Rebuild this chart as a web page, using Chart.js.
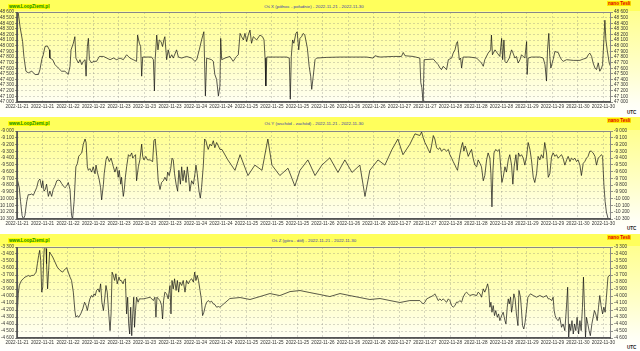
<!DOCTYPE html>
<html>
<head>
<meta charset="utf-8">
<script src="https://cdn.jsdelivr.net/npm/chart.js@4"></script>
<style>
  body { margin: 0; width: 640px; height: 351px; overflow: hidden; background: #fff; font-family: "Liberation Sans", Arial, sans-serif; }
  .panel { position: absolute; left: 0; width: 640px; }
  .head { position: absolute; left: 0; top: 0; width: 640px; background: #ffff5c; }
  .site { position: absolute; left: 8px; top: 4px; font-size: 4.6px; font-weight: bold; color: #0a8a00; background: #ffff00; line-height: 5px; padding: 0 1px; }
  .title { position: absolute; left: 17px; width: 594px; top: 4px; text-align: center; font-size: 4.4px; color: #3a3aa8; line-height: 5px; }
  .unit { position: absolute; left: 607px; top: 1px; font-size: 4.6px; font-weight: bold; color: #e00000; background: #ffe400; line-height: 5px; padding: 0 1px; }
  .utc { position: absolute; left: 627px; font-size: 4.6px; font-weight: bold; color: #222; line-height: 5px; }
  canvas { position: absolute; left: 0; top: 0; }
</style>
</head>
<body>
<script>
// tick labels along the time axis (one every 10 h)
const xLabels = ['2022-11-21', '2022-11-21', '2022-11-22', '2022-11-22', '2022-11-23', '2022-11-23',
  '2022-11-23', '2022-11-24', '2022-11-24', '2022-11-25', '2022-11-25', '2022-11-25',
  '2022-11-26', '2022-11-26', '2022-11-26', '2022-11-27', '2022-11-27', '2022-11-28',
  '2022-11-28', '2022-11-28', '2022-11-29', '2022-11-29', '2022-11-30', '2022-11-30'];

const titles = [
  'Oś X (północ - południe) - 2022-11-21 - 2022-11-30',
  'Oś Y (wschód - zachód) - 2022-11-21 - 2022-11-30',
  'Oś Z (góra - dół) - 2022-11-21 - 2022-11-30'
];

const rangeX = [47000, 48600];
const rangeY = [-10300, -9000];
const rangeZ = [-4600, -3300];

// [hours from start, nT]
const axisX = [
  [0, 48571], [0.5, 48582], [1.2, 48337], [2.2, 48074], [2.7, 47810], [3.5, 47547], [4.4, 47518],
  [5.8, 47547], [7.1, 47489], [8.4, 47489], [9.0, 47576], [9.7, 47752], [10.3, 47840], [11.0, 47986],
  [11.9, 47997], [12.7, 47927], [12.9, 47781], [14.0, 47752], [14.9, 47664], [16.2, 47605], [17.5, 47547],
  [18.8, 47547], [20.1, 47489], [20.8, 47635], [21.2, 47927], [22.1, 48044], [22.7, 48161], [23.1, 47781],
  [24.1, 47693], [24.7, 47752], [25.4, 47664], [26.0, 47723], [26.7, 47752], [27.1, 47459], [27.6, 47986],
  [28.0, 48132], [28.4, 47752], [29.3, 47693], [29.9, 47723], [31.2, 47723], [32.3, 47810], [33.9, 47810],
  [35.2, 47781], [36.5, 47752], [37.8, 47781], [39.1, 47752], [40.4, 47781], [41.7, 47752], [43.0, 47840],
  [44.3, 47781], [45.6, 47752], [46.9, 47723], [47.3, 48190], [48.0, 48044], [48.5, 47986], [48.9, 47459],
  [49.3, 47799], [50.8, 47799], [52.8, 47799], [53.5, 47752], [53.9, 47196], [54.2, 47752], [54.8, 48190],
  [55.3, 47927], [55.8, 48103], [56.5, 48074], [57.1, 47986], [57.6, 48103], [58.0, 48161], [58.7, 47752],
  [59.3, 47927], [60.0, 47781], [60.7, 47840], [61.3, 47781], [62.6, 47927], [63.3, 47799], [64.6, 47781],
  [66.5, 47810], [68.5, 47781], [69.8, 47723], [70.5, 47752], [71.5, 47927], [72.4, 48103], [73.3, 48249],
  [73.9, 47108], [74.4, 47781], [76.3, 47752], [77.0, 47723], [77.6, 47489], [78.3, 47401], [79.0, 47108],
  [79.6, 47284], [79.9, 48132], [80.3, 47752], [81.6, 47781], [83.5, 47810], [84.8, 47723], [86.1, 47810],
  [86.8, 47840], [87.5, 48220], [88.1, 48161], [88.8, 48103], [89.4, 48220], [90.1, 48074], [90.7, 48190],
  [91.4, 48278], [92.0, 48044], [92.7, 48161], [94.0, 48103], [95.3, 48190], [96.3, 48161], [96.9, 48103],
  [97.3, 47781], [97.6, 47284], [98.0, 47799], [100.5, 47799], [103.1, 47799], [105.8, 47799], [106.8, 47781],
  [107.2, 47050], [107.6, 47810], [108.1, 48103], [108.6, 48044], [109.4, 48220], [109.9, 48249], [110.5, 47927],
  [111.0, 48132], [111.6, 48161], [112.3, 48220], [112.9, 48190], [113.9, 47957], [114.6, 47635], [115.2, 47459],
  [115.6, 47225], [116.2, 47459], [116.9, 47752], [117.5, 47781], [121.4, 47793], [126.7, 47799], [131.9, 47799],
  [137.1, 47799], [139.7, 47781], [140.4, 47822], [142.4, 47799], [147.6, 47810], [150.8, 47810], [151.5, 47880],
  [152.2, 47822], [155.4, 47810], [158.0, 47781], [158.4, 47343], [158.8, 47255], [159.3, 47000], [159.7, 47752],
  [163.3, 47763], [164.6, 47693], [165.2, 47664], [165.9, 47605], [166.5, 47576], [167.2, 47635], [167.8, 47605],
  [168.5, 47576], [169.2, 47752], [170.5, 47781], [171.1, 47869], [171.8, 47927], [172.4, 48044], [172.8, 48074],
  [173.5, 47752], [174.0, 47781], [174.4, 47605], [175.0, 47799], [177.6, 47799], [180.3, 47781], [182.2, 47693],
  [182.9, 47635], [183.5, 47752], [184.8, 47869], [185.8, 47927], [186.1, 48190], [186.5, 47840], [187.5, 47927],
  [188.4, 47869], [189.4, 47810], [190.1, 48132], [190.5, 47752], [191.0, 48103], [191.4, 47723], [192.0, 47693],
  [193.1, 47781], [194.0, 47927], [194.6, 47869], [195.3, 47781], [195.9, 47810], [196.6, 47693], [197.3, 47752],
  [197.9, 47840], [199.2, 47781], [199.9, 48074], [200.1, 47489], [200.5, 47781], [201.8, 47799], [205.1, 47799],
  [206.4, 47781], [207.1, 47664], [207.7, 47372], [208.1, 47927], [208.6, 48220], [209.0, 47810], [209.4, 47605],
  [210.3, 47752], [211.0, 47898], [212.3, 47880], [212.9, 47810], [213.6, 47752], [214.3, 47723], [215.6, 47752],
  [218.2, 47740], [220.8, 47740], [222.1, 47763], [223.4, 47781], [224.1, 47840], [224.7, 47869], [225.4, 47810],
  [226.0, 47693], [226.7, 47605], [227.3, 47576], [228.0, 47693], [228.6, 47547], [229.3, 47605], [229.7, 47664],
  [230.2, 48103], [230.6, 48454], [231.0, 48103], [231.5, 47927], [232.3, 47693], [232.8, 47635]
];

const axisY = [
  [0.1, -9709], [0.9, -9838], [1.4, -10043], [2.0, -10249], [2.5, -10300], [3.1, -10249], [3.8, -10043],
  [4.4, -9941], [5.1, -9941], [5.8, -9930], [6.4, -9951], [7.1, -9889], [7.7, -9838], [8.4, -9735],
  [9.0, -9709], [9.7, -9838], [10.1, -9735], [10.6, -9889], [11.1, -9864], [11.6, -9786], [12.3, -9966],
  [12.9, -9889], [13.6, -9966], [14.2, -9864], [14.9, -9812], [15.6, -9735], [16.2, -9725], [16.9, -9735],
  [17.5, -9776], [18.2, -9812], [18.8, -9838], [19.5, -9812], [20.1, -9761], [20.8, -9864], [21.4, -10249],
  [21.8, -10300], [22.4, -10043], [23.1, -9529], [23.7, -9478], [24.2, -9375], [24.7, -9350], [25.4, -9324],
  [26.0, -9195], [26.7, -9118], [27.1, -9170], [27.6, -9529], [28.0, -9581], [28.6, -9555], [29.3, -9607],
  [29.9, -9529], [30.6, -9632], [31.0, -9504], [31.5, -9607], [32.2, -9709], [32.8, -9838], [33.2, -10018],
  [33.9, -9786], [34.2, -9632], [34.9, -9427], [35.4, -9375], [36.2, -9452], [36.9, -9401], [37.8, -9529],
  [38.4, -9607], [39.1, -9529], [39.7, -9684], [40.1, -9581], [40.7, -9786], [41.0, -9684], [41.7, -9966],
  [42.1, -9864], [42.5, -9684], [43.0, -9529], [43.7, -9350], [44.3, -9375], [45.0, -9324], [45.4, -9401],
  [45.9, -9375], [46.5, -9350], [46.9, -9735], [47.6, -9529], [48.2, -9427], [48.9, -9195], [49.3, -9375],
  [49.8, -9427], [50.5, -9375], [51.2, -9427], [52.2, -9427], [53.2, -9452], [53.7, -9144], [54.2, -9118],
  [54.8, -9375], [55.4, -9735], [56.1, -9864], [56.7, -9761], [57.4, -9735], [58.0, -9684], [58.7, -9735],
  [59.1, -9607], [59.7, -9658], [60.3, -9555], [60.8, -9401], [61.3, -9427], [61.8, -9632], [62.4, -9786],
  [63.0, -9889], [63.5, -9581], [64.1, -9786], [64.6, -9529], [65.1, -9735], [65.6, -9581], [66.3, -9761],
  [66.8, -9529], [67.3, -9684], [67.8, -9889], [68.5, -9735], [69.2, -9786], [69.8, -9632], [70.2, -9504],
  [70.7, -9632], [71.4, -9889], [71.9, -9992], [72.4, -9838], [73.1, -9504], [73.6, -9118], [74.1, -9144],
  [74.6, -9221], [75.0, -9272], [75.7, -9195], [76.3, -9221], [77.0, -9144], [77.6, -9247], [78.3, -9170],
  [79.0, -9221], [79.6, -9272], [80.4, -9273], [82.7, -9427], [85.5, -9581], [87.5, -9350], [90.6, -9658],
  [93.3, -9504], [96.1, -9581], [98.4, -9119], [100.0, -9504], [103.1, -9658], [106.3, -9550], [109.0, -9813],
  [111.0, -9581], [114.1, -9427], [116.9, -9658], [119.6, -9504], [122.7, -9396], [125.9, -9612], [128.6, -9427],
  [131.4, -9612], [134.5, -9504], [136.5, -9967], [138.4, -9581], [141.6, -9427], [144.3, -9504], [147.1, -9273],
  [149.4, -9119], [151.4, -9350], [154.1, -9196], [156.1, -9042], [158.0, -9067], [158.7, -9015], [159.3, -9093],
  [160.0, -9170], [160.7, -9221], [161.3, -9272], [162.0, -9324], [162.6, -9221], [163.3, -9067], [163.9, -9118],
  [164.6, -9247], [165.2, -9272], [165.9, -9247], [166.5, -9298], [167.2, -9272], [167.8, -9272], [168.5, -9298],
  [169.2, -9272], [169.8, -9350], [170.5, -9401], [171.1, -9452], [171.8, -9504], [172.4, -9555], [172.8, -9581],
  [173.3, -9452], [173.7, -9350], [174.4, -9221], [174.8, -9170], [175.3, -9298], [175.8, -9221], [176.3, -9272],
  [177.0, -9375], [177.6, -9324], [178.3, -9272], [178.9, -9401], [179.6, -9504], [180.3, -9529], [180.9, -9427],
  [181.6, -9478], [182.2, -9529], [182.9, -9735], [183.5, -9658], [184.2, -9427], [184.8, -9324], [185.5, -9401],
  [185.9, -9632], [186.3, -10121], [186.7, -9581], [187.1, -9324], [187.8, -9272], [188.4, -9298], [189.2, -9272],
  [189.7, -9504], [190.2, -9761], [190.7, -9684], [191.4, -9529], [192.0, -9607], [192.7, -9427], [193.3, -9350],
  [194.0, -9504], [194.5, -9786], [195.0, -9529], [195.7, -9350], [196.2, -9581], [196.7, -9324], [197.3, -9375],
  [197.9, -9350], [198.6, -9401], [199.2, -9504], [199.9, -9375], [200.5, -9170], [201.2, -9272], [201.8, -9427],
  [202.5, -9684], [203.1, -9761], [203.8, -9632], [204.4, -9375], [205.1, -9427], [205.7, -9350], [206.4, -9401],
  [207.0, -9170], [207.7, -9324], [208.4, -9684], [209.0, -9632], [209.7, -9375], [210.3, -9324], [211.0, -9375],
  [211.6, -9350], [212.3, -9401], [212.9, -9375], [213.6, -9350], [214.2, -9401], [214.9, -9504], [215.6, -9427],
  [216.2, -9375], [216.9, -9452], [217.5, -9401], [218.2, -9427], [218.8, -9401], [219.5, -9452], [220.1, -9427],
  [220.8, -9504], [221.4, -9658], [222.1, -9478], [222.7, -9452], [223.4, -9401], [224.0, -9375], [224.7, -9298],
  [225.3, -9298], [226.0, -9324], [226.7, -9375], [227.3, -9504], [228.0, -9401], [228.6, -9375], [229.3, -9350],
  [229.7, -9375], [230.2, -9786], [230.7, -10043], [231.2, -10198], [231.9, -10300]
];

const axisZ = [
  [0.1, -4256], [0.5, -3969], [0.9, -3850], [1.4, -3802], [2.0, -3768], [2.5, -3754], [3.1, -3730],
  [3.8, -3721], [4.4, -3706], [5.1, -3721], [5.8, -3706], [6.4, -3706], [7.1, -3682], [7.5, -3659],
  [8.0, -3539], [8.5, -3420], [8.9, -3348], [9.3, -3491], [9.7, -3945], [10.1, -3874], [10.5, -3443],
  [10.7, -3324], [11.0, -3300], [11.4, -3324], [11.6, -3539], [12.0, -3898], [12.4, -3635], [12.8, -3372],
  [13.2, -3396], [14.0, -3443], [14.9, -3515], [15.8, -3587], [16.9, -3635], [17.9, -3659], [18.4, -3635],
  [19.0, -3611], [19.5, -3596], [20.1, -3659], [20.8, -3730], [21.4, -3778], [22.1, -3945], [22.7, -4208],
  [23.1, -4304], [23.7, -4280], [24.2, -4304], [25.0, -4256], [25.8, -4184], [26.5, -4089], [27.1, -4137],
  [27.6, -4208], [28.1, -4113], [28.6, -4041], [29.2, -3993], [29.7, -4017], [30.2, -3969], [30.7, -3993],
  [31.2, -3921], [31.8, -3898], [32.3, -3945], [32.8, -3826], [33.3, -4089], [33.9, -4208], [34.4, -4041],
  [34.9, -3850], [35.4, -3945], [35.9, -4208], [36.5, -4495], [36.9, -4256], [37.3, -3659], [37.8, -3706],
  [38.3, -3778], [38.8, -3682], [39.3, -3826], [40.0, -3730], [40.4, -3778], [40.9, -3778], [41.6, -3826],
  [42.0, -3778], [42.5, -3754], [43.0, -4256], [43.4, -4017], [43.8, -4399], [44.2, -4543], [44.6, -4160],
  [45.0, -4567], [45.4, -4256], [45.8, -4017], [46.1, -4447], [46.5, -4208], [46.9, -4017], [47.5, -4089],
  [48.0, -4041], [48.8, -4041], [49.5, -4041], [50.8, -4031], [52.2, -4017], [53.5, -4065], [54.1, -4017],
  [54.5, -4304], [54.9, -4017], [55.4, -4041], [56.1, -4065], [56.7, -4137], [57.1, -4328], [57.5, -4065],
  [58.0, -3945], [58.7, -3969], [59.3, -4041], [60.0, -3850], [60.4, -4256], [60.8, -3778], [61.3, -3898],
  [61.8, -3754], [62.4, -3921], [62.9, -3778], [63.4, -3945], [63.9, -3802], [64.6, -3850], [65.2, -3778],
  [65.9, -3945], [66.5, -3778], [67.2, -3826], [67.8, -3778], [68.5, -3754], [69.2, -3802], [69.7, -3659],
  [70.2, -3778], [70.7, -3706], [71.2, -3778], [71.8, -3921], [72.3, -4041], [72.8, -4280], [73.3, -4232],
  [73.9, -4137], [74.4, -4089], [75.0, -4065], [75.7, -4089], [76.3, -4074], [77.0, -4113], [77.6, -4122],
  [78.3, -4160], [79.0, -4151], [79.6, -4160], [83.5, -4036], [87.5, -4022], [91.4, -4050], [95.3, -4008],
  [99.2, -3965], [103.1, -3994], [107.1, -3937], [111.0, -3922], [114.9, -3951], [118.8, -3979], [122.7, -4008],
  [126.7, -3965], [130.6, -3994], [134.5, -4022], [138.4, -4050], [142.4, -4036], [146.3, -4065], [150.2, -4093],
  [154.1, -4065], [158.0, -4065], [159.3, -4113], [160.0, -4089], [160.7, -4041], [162.0, -4017], [163.3, -3993],
  [163.9, -3969], [164.6, -4017], [165.2, -4065], [165.9, -4041], [166.5, -4065], [167.2, -4041], [167.8, -4065],
  [168.5, -4089], [169.2, -4041], [169.8, -4065], [170.5, -4137], [171.1, -4160], [171.8, -4137], [172.4, -4089],
  [173.1, -4089], [173.7, -4065], [174.4, -4089], [175.0, -4017], [175.7, -3969], [176.3, -3945], [177.0, -3969],
  [177.6, -3993], [178.9, -3979], [180.3, -3993], [180.9, -3945], [181.6, -3969], [182.2, -4017], [182.9, -3898],
  [183.5, -3945], [184.2, -3874], [184.6, -3826], [185.0, -3898], [185.5, -4160], [185.9, -4089], [186.3, -4232],
  [186.8, -4137], [187.3, -4280], [187.8, -4208], [188.4, -4304], [188.9, -4256], [189.4, -4352], [190.1, -4280],
  [190.7, -4232], [191.4, -4352], [191.8, -4399], [192.3, -4160], [192.7, -4041], [193.1, -4113], [193.6, -4017],
  [194.0, -4232], [194.4, -4137], [194.9, -3969], [195.4, -4041], [195.9, -4256], [196.5, -4423], [196.9, -3921],
  [197.5, -4017], [197.9, -4208], [198.3, -4423], [198.8, -4471], [199.3, -4376], [199.9, -4184], [200.4, -4017],
  [200.9, -3993], [201.4, -3969], [202.5, -3993], [203.8, -4017], [205.1, -3993], [206.4, -4017], [207.7, -3993],
  [208.4, -4041], [209.0, -4041], [209.7, -4065], [210.3, -4017], [210.7, -4208], [211.1, -4280], [211.6, -4328],
  [212.3, -4352], [212.9, -4304], [213.6, -4447], [214.2, -4399], [214.9, -4495], [215.6, -4113], [216.0, -3874],
  [216.4, -4591], [216.8, -4399], [217.2, -4495], [217.7, -4352], [218.2, -4543], [218.7, -4399], [219.2, -4495],
  [219.7, -4304], [220.3, -4543], [220.8, -4352], [221.3, -4495], [221.8, -4160], [222.2, -3730], [222.6, -4160],
  [223.0, -4591], [223.4, -4304], [223.9, -4399], [224.4, -4495], [224.9, -4567], [225.5, -4399], [226.0, -4304],
  [226.5, -4208], [227.0, -4256], [227.6, -4352], [228.1, -4160], [228.6, -3993], [229.1, -4137], [229.7, -4256],
  [230.2, -4160], [230.7, -4232], [231.2, -4017], [231.8, -3730], [232.3, -3706], [232.8, -3706]
];

function fmt(v) {
  const s = String(Math.abs(v));
  const t = s.length > 3 ? s.slice(0, -3) + ' ' + s.slice(-3) : s;
  return (v < 0 ? '-' : '') + t;
}

const frame = {
  id: 'frame',
  afterDraw(chart) {
    const { ctx, chartArea: a } = chart;
    ctx.save();
    ctx.strokeStyle = '#888';
    ctx.lineWidth = 1;
    ctx.strokeRect(a.left + 0.5, a.top + 0.5, a.right - a.left - 1, a.bottom - a.top - 1);
    ctx.strokeStyle = '#444';
    ctx.lineWidth = 1.5;
    ctx.beginPath();
    ctx.moveTo(a.left, a.top);
    ctx.lineTo(a.left, a.bottom);
    ctx.lineTo(a.right, a.bottom);
    ctx.stroke();
    ctx.restore();
  }
};

const tickFont = { family: 'Liberation Sans', size: 4.6 };
const gridColor = 'rgba(120,120,120,0.42)';
const gridStyle = { color: gridColor, lineWidth: 0.7, tickLength: 2, tickColor: '#666' };

function makePanel(p) {
  const box = document.createElement('div');
  box.className = 'panel';
  box.style.top = p.top + 'px';
  box.style.height = p.height + 'px';
  box.style.background = 'linear-gradient(#ffff90 ' + p.padTop + 'px, #ffffcc 60%, #fffff4 88%, #ffffff 100%)';
  box.innerHTML =
    '<div class="head" style="height:' + (p.padTop - 1) + 'px"></div>' +
    '<div class="site">www.LoopZiemi.pl</div>' +
    '<div class="title">' + p.title + '</div>' +
    '<div class="unit">nano Tesli</div>' +
    '<div class="utc" style="top:' + p.utcTop + 'px">UTC</div>';
  const canvas = document.createElement('canvas');
  canvas.width = 640;
  canvas.height = p.height;
  box.appendChild(canvas);
  document.body.appendChild(box);

  const yCommon = {
    min: p.range[0],
    max: p.range[1],
    ticks: { stepSize: 100, maxTicksLimit: 40, autoSkip: false, font: tickFont, color: '#333', padding: 1, callback: fmt },
    grid: gridStyle,
    border: { display: false, dash: [2, 2] }
  };

  new Chart(canvas, {
    type: 'line',
    data: {
      datasets: [{
        data: p.data.map(([x, y]) => ({ x, y })),
        borderColor: '#111',
        borderWidth: 0.7,
        pointRadius: 0,
        tension: 0,
        yAxisID: 'y'
      }]
    },
    options: {
      responsive: false,
      animation: false,
      layout: { padding: { top: p.padTop } },
      plugins: { legend: { display: false }, tooltip: { enabled: false } },
      scales: {
        x: {
          type: 'linear',
          min: 0,
          max: 233,
          afterBuildTicks: (s) => { s.ticks = xLabels.map((_, i) => ({ value: i * 10 })); },
          afterFit: (s) => { s.height = p.axisH; },
          ticks: { autoSkip: false, maxRotation: 0, font: tickFont, color: '#333', padding: 2,
                   callback: (v) => xLabels[Math.round(v / 10)] },
          grid: { color: gridColor, lineWidth: 0.7, drawTicks: false },
          border: { display: false, dash: [2, 2] }
        },
        y: Object.assign({ position: 'left', afterFit: (s) => { s.width = 17; } }, yCommon),
        y2: Object.assign({ position: 'right', afterFit: (s) => { s.width = 29; } }, yCommon,
          { grid: Object.assign({}, gridStyle, { drawOnChartArea: false }) })
      }
    },
    plugins: [frame]
  });
}

makePanel({ top: 0, height: 117, padTop: 12, axisH: 15, utcTop: 110, range: rangeX, data: axisX, title: titles[0] });
makePanel({ top: 117, height: 117, padTop: 14, axisH: 15, utcTop: 109, range: rangeY, data: axisY, title: titles[1] });
makePanel({ top: 234, height: 117, padTop: 13, axisH: 13, utcTop: 111, range: rangeZ, data: axisZ, title: titles[2] });
</script>
</body>
</html>
